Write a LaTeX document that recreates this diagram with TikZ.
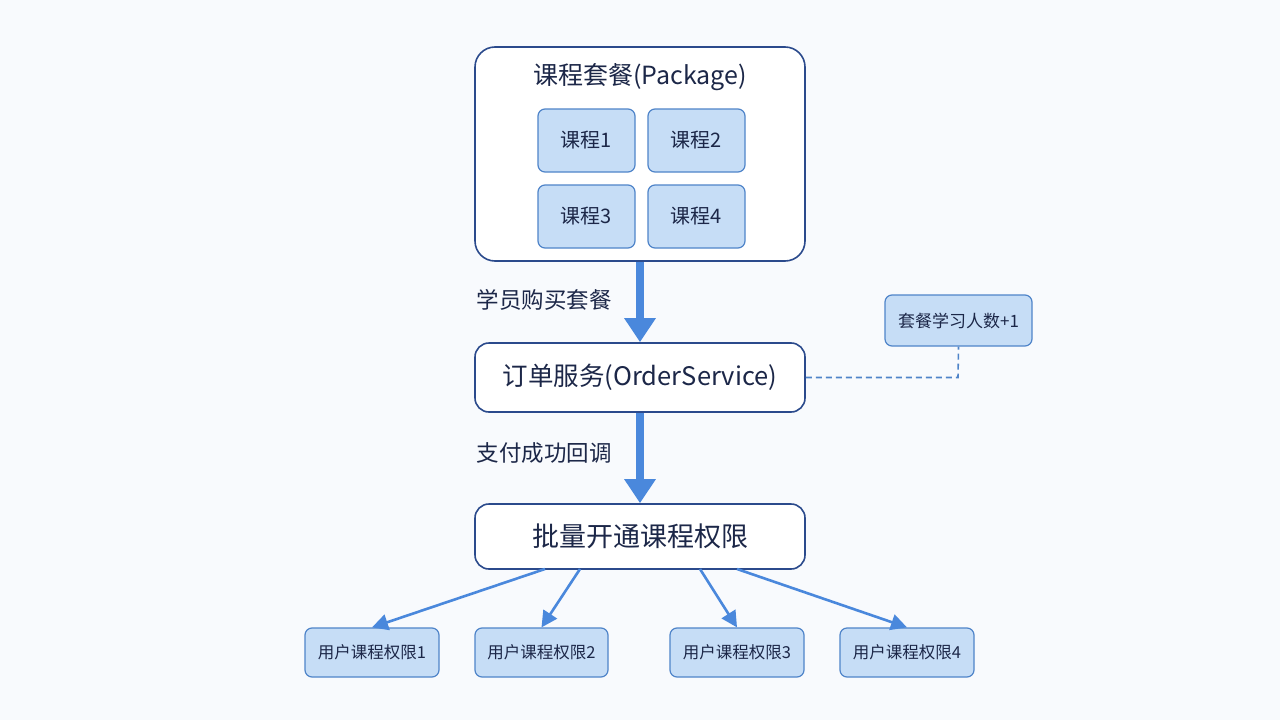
\documentclass[tikz,border=0pt]{standalone}
\usepackage{fontspec}
\setmainfont{Noto Sans CJK SC}
\usetikzlibrary{arrows.meta,positioning}
\definecolor{bg}{HTML}{F8FAFD}
\definecolor{darkb}{HTML}{2B4A8C}
\definecolor{txt}{HTML}{1C2748}
\definecolor{lfill}{HTML}{C6DDF6}
\definecolor{lborder}{HTML}{4F84C9}
\definecolor{arr}{HTML}{4A88DC}
\begin{document}
\begin{tikzpicture}[x=1pt,y=-1pt,
  bigbox/.style={draw=darkb,line width=1.6pt,fill=white,rounded corners=14pt,text=txt},
  smallbox/.style={draw=lborder,line width=1.2pt,fill=lfill,rounded corners=7pt,text=txt},
  thickarrow/.style={draw=arr,line width=8pt,-{Triangle[width=30pt,length=24pt]}},
  thinarrow/.style={draw=arr,line width=2.6pt,-{Triangle[width=16pt,length=16pt]}},
  lbl/.style={text=txt,font=\fontsize{22.5}{26}\selectfont,anchor=west}]
\fill[bg] (0,0) rectangle (1280,720);
\useasboundingbox (0,0) rectangle (1280,720);
% package
\node[bigbox,rounded corners=20pt,minimum width=330pt,minimum height=214pt] (pkg) at (640,154) {};
\node[text=txt,font=\fontsize{25}{28}\selectfont] (pkgt) at (640,77) {课程套餐(Package)};
\node[smallbox,minimum width=97pt,minimum height=63pt,font=\fontsize{20}{24}\selectfont] (c1) at (586.5,140.5) {课程1};
\node[smallbox,minimum width=97pt,minimum height=63pt,font=\fontsize{20}{24}\selectfont] (c2) at (696.5,140.5) {课程2};
\node[smallbox,minimum width=97pt,minimum height=63pt,font=\fontsize{20}{24}\selectfont] (c3) at (586.5,216.5) {课程3};
\node[smallbox,minimum width=97pt,minimum height=63pt,font=\fontsize{20}{24}\selectfont] (c4) at (696.5,216.5) {课程4};
% order service
\node[bigbox,minimum width=330pt,minimum height=69pt,font=\fontsize{25.5}{28}\selectfont] (order) at (640,377.5) {订单服务(OrderService)};
\node[smallbox,minimum width=147pt,minimum height=51pt,font=\fontsize{17}{20}\selectfont] (count) at (958.5,320.5) {套餐学习人数+1};
% batch
\node[bigbox,minimum width=330pt,minimum height=65pt,font=\fontsize{27}{30}\selectfont] (batch) at (640,536.5) {批量开通课程权限};
% users
\node[smallbox,minimum width=134pt,minimum height=49pt,font=\fontsize{16.5}{20}\selectfont] (u1) at (372,652.5) {用户课程权限1};
\node[smallbox,minimum width=133pt,minimum height=49pt,font=\fontsize{16.5}{20}\selectfont] (u2) at (541.5,652.5) {用户课程权限2};
\node[smallbox,minimum width=134pt,minimum height=49pt,font=\fontsize{16.5}{20}\selectfont] (u3) at (737,652.5) {用户课程权限3};
\node[smallbox,minimum width=134pt,minimum height=49pt,font=\fontsize{16.5}{20}\selectfont] (u4) at (907,652.5) {用户课程权限4};
% arrows
\draw[thickarrow] (pkg.south) -- (order.north);
\draw[thickarrow] (order.south) -- (batch.north);
\node[lbl] (l1) at (473,300) {学员购买套餐};
\node[lbl] (l2) at (473,453) {支付成功回调};
\draw[draw=lborder,line width=1.6pt,dash pattern=on 6pt off 4pt] (order.east) -- (958,377.5) -- (count.south);
\coordinate (s1) at (545,569);
\coordinate (s2) at (580,569);
\coordinate (s3) at (700,569);
\coordinate (s4) at (737,569);
\draw[thinarrow] (s1) -- (u1.north);
\draw[thinarrow] (s2) -- (u2.north);
\draw[thinarrow] (s3) -- (u3.north);
\draw[thinarrow] (s4) -- (u4.north);
\end{tikzpicture}
\end{document}
